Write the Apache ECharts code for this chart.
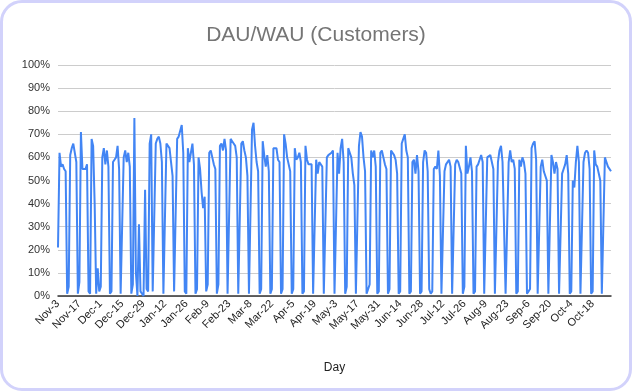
<!DOCTYPE html>
<html>
<head>
<meta charset="utf-8">
<script src="https://cdn.jsdelivr.net/npm/echarts@6/dist/echarts.min.js"></script>
<style>
html,body{margin:0;padding:0;background:#fff;}
#wrap{position:relative;width:632px;height:391px;}
#chart{position:absolute;left:0;top:0;width:632px;height:391px;}
#frame{position:absolute;left:0;top:0;width:626px;height:385px;border:3px solid #d2d2fb;border-radius:22px;pointer-events:none;}
</style>
</head>
<body>
<div id="wrap"><div id="chart"></div><div id="frame"></div></div>
<script>
// Category settings: daily from Nov 3 to Oct 30 (leap-year February)
var monthNames = ['Nov','Dec','Jan','Feb','Mar','Apr','May','Jun','Jul','Aug','Sep','Oct'];
var monthDays  = [30,31,31,29,31,30,31,30,31,31,30,31];
var startDay = 3;
var endDay = 30;

// DAU/WAU values in %, one per day
var dauWau = [
21,62,56,57,55,54,1,
4,61,64,66,66,58,1,
6,71,55,55,55,57,2,
1,68,65,40,1,12,2,
4,60,64,57,63,56,1,
2,58,59,60,65,55,1,
1,60,63,58,62,56,1,
5,77,10,0,31,2,1,
0,46,3,2,66,70,2,
2,66,68,69,66,58,1,
1,66,65,64,58,52,2,
2,68,69,69,74,62,2,
1,64,58,62,66,57,1,
3,60,55,45,38,43,2,
5,62,63,60,57,55,1,
5,65,66,63,68,63,1,
1,68,67,66,65,60,1,
1,66,67,63,60,52,1,
1,72,75,65,58,54,1,
3,67,61,56,61,54,1,
3,64,64,64,59,58,1,
3,70,66,60,60,54,1,
3,64,59,60,62,58,1,
2,65,59,57,57,57,1,
1,59,53,58,58,56,1,
1,60,61,61,62,63,1,
1,62,53,64,68,58,1,
4,64,62,60,53,48,1,
1,65,71,69,60,54,1,
3,5,63,60,63,56,1,
2,62,63,60,57,55,1,
3,63,63,61,59,53,1,
2,66,68,70,63,60,1,
2,58,59,53,61,54,1,
2,58,63,62,54,3,1,
2,55,56,55,63,52,1,
1,54,57,57,59,56,1,
1,57,59,58,58,53,1,
4,65,53,56,60,54,1,
2,56,57,59,61,58,1,
1,60,60,61,58,55,1,
1,58,63,65,58,58,1,
1,58,63,58,59,55,1,
2,59,56,60,58,53,1,
2,3,64,66,67,59,1,
1,56,59,54,54,50,1,
1,61,58,53,58,55,1,
1,53,55,57,61,53,1,
2,50,47,58,65,58,1,
1,58,62,63,62,55,1,
2,63,57,56,53,50,1,
1,60,58,56,56,54
];

var yTicks = [0,10,20,30,40,50,60,70,80,90,100];

var days = [];
(function(){
  for (var m = 0; m < monthNames.length; m++) {
    var first = (m === 0) ? startDay : 1;
    var last = (m === monthNames.length - 1) ? endDay : monthDays[m];
    for (var d = first; d <= last; d++) days.push(monthNames[m] + '-' + d);
  }
})();

var chart = echarts.init(document.getElementById('chart'), null, {renderer:'canvas'});
chart.setOption({
  animation:false,
  backgroundColor:'transparent',
  title:{
    text:'DAU/WAU (Customers)',
    left:'center', top:20,
    textStyle:{fontFamily:'Liberation Sans, Arial, sans-serif', fontSize:21, fontWeight:'normal', color:'#757575'}
  },
  grid:{left:58, right:21, top:65, bottom:95, containLabel:false},
  xAxis:{
    type:'category',
    data:days,
    boundaryGap:false,
    name:'Day',
    nameLocation:'middle',
    nameGap:66,
    nameTextStyle:{fontFamily:'Liberation Sans, Arial, sans-serif', fontSize:12, color:'#222'},
    axisLine:{show:true, lineStyle:{color:'#333', width:1.5}},
    axisTick:{show:false},
    axisLabel:{interval:13, rotate:45, fontFamily:'Liberation Sans, Arial, sans-serif', fontSize:11, color:'#222', margin:6},
    splitLine:{show:false}
  },
  yAxis:{
    type:'value',
    min:yTicks[0], max:yTicks[yTicks.length-1], interval:10,
    axisLine:{show:false},
    axisTick:{show:false},
    axisLabel:{formatter:function(v){return v+'%';}, fontFamily:'Liberation Sans, Arial, sans-serif', fontSize:11, color:'#333', margin:8},
    splitLine:{lineStyle:{color:'#cccccc', width:1}}
  },
  series:[{
    type:'line',
    data:dauWau,
    showSymbol:false,
    symbol:'none',
    lineStyle:{color:'#4285F4', width:2},
    itemStyle:{color:'#4285F4'}
  }]
});
</script>
</body>
</html>
